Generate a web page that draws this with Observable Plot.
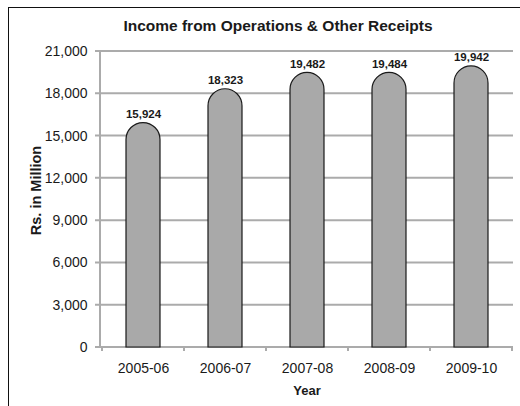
<!DOCTYPE html>
<html><head><meta charset="utf-8">
<script src="https://cdn.jsdelivr.net/npm/d3@7"></script>
<script src="https://cdn.jsdelivr.net/npm/@observablehq/plot@0.6"></script>
<style>
html,body{margin:0;padding:0;background:#fff;}
#wrap{position:relative;width:520px;height:406px;overflow:hidden;font-family:"Liberation Sans",Arial,sans-serif;}
#border{position:absolute;left:8px;top:7px;width:600px;height:500px;border-left:1px solid #111;border-top:1px solid #111;box-sizing:border-box;}
#chart{position:absolute;left:0;top:0;}
</style>
</head><body>
<div id="wrap"><div id="border"></div><div id="chart"></div></div>
<script>
const years = ["2005-06", "2006-07", "2007-08", "2008-09", "2009-10"];
const income = [15924, 18323, 19482, 19484, 19942];
const yTicks = [0, 3000, 6000, 9000, 12000, 15000, 18000, 21000];
const title = "Income from Operations & Other Receipts";
const yLabel = "Rs. in Million";
const xLabel = "Year";

const data = years.map((y, i) => ({year: y, value: income[i]}));
const fmt = d3.format(",");

function decorations(index, scales, values, dims) {
  const g = d3.create("svg:g");
  const x = scales.x, y = scales.y;
  const bw = x.bandwidth(), step = x.step();
  const left = dims.marginLeft, right = dims.width - dims.marginRight;
  const y0 = y(0);
  for (const t of yTicks) {
    g.append("line").attr("x1", left - 5).attr("x2", right)
      .attr("y1", y(t)).attr("y2", y(t))
      .attr("stroke", "#ababab").attr("stroke-width", 2);
  }
  g.append("line").attr("x1", left).attr("x2", left)
    .attr("y1", y(yTicks[yTicks.length - 1])).attr("y2", y0)
    .attr("stroke", "#ababab").attr("stroke-width", 2);
  for (let i = 0; i <= years.length; i++) {
    const xx = i < years.length ? x(years[i]) - (step - bw) / 2 : x(years[years.length - 1]) + bw + (step - bw) / 2;
    g.append("line").attr("x1", xx).attr("x2", xx).attr("y1", y0).attr("y2", y0 + 4)
      .attr("stroke", "#ababab").attr("stroke-width", 2);
  }
  for (const d of data) {
    const x0 = x(d.year), r = bw / 2, yv = y(d.value);
    const p = `M${x0},${y0}L${x0},${yv + r}A${r},${r} 0 0 1 ${x0 + bw},${yv + r}L${x0 + bw},${y0}Z`;
    g.append("path").attr("d", p).attr("fill", "#a9a9a9").attr("stroke", "#1a1a1a").attr("stroke-width", 1.2);
  }
  return g.node();
}

const chart = Plot.plot({
  width: 520,
  height: 406,
  marginLeft: 100,
  marginRight: 7,
  marginTop: 51,
  marginBottom: 59,
  style: {background: "transparent", fontFamily: "Liberation Sans, Arial, sans-serif", fontSize: "14px", color: "#1a1a1a", overflow: "visible"},
  x: {type: "band", domain: years, paddingInner: 0.59, paddingOuter: 0.295, label: null, tickSize: 0, tickPadding: 16},
  y: {domain: [0, 21000], ticks: yTicks, tickFormat: fmt, label: null, tickSize: 0, tickPadding: 13},
  marks: [
    decorations,
    Plot.text(data, {x: "year", y: "value", text: d => fmt(d.value), dy: -9, fontWeight: "bold", fontSize: 11.5, fill: "#1a1a1a"}),
    Plot.text([title], {frameAnchor: "top", textAnchor: "middle", lineAnchor: "middle", dx: -29, dy: -25, fontWeight: "bold", fontSize: 15.5, fill: "#1a1a1a"}),
    Plot.text([yLabel], {frameAnchor: "left", textAnchor: "middle", lineAnchor: "middle", dx: -64, dy: -9, rotate: -90, fontWeight: "bold", fontSize: 14.5, fill: "#1a1a1a"}),
    Plot.text([xLabel], {frameAnchor: "bottom", textAnchor: "middle", lineAnchor: "middle", dy: 43, fontWeight: "bold", fontSize: 13, fill: "#1a1a1a"})
  ]
});
document.getElementById("chart").appendChild(chart);
</script>
</body></html>
